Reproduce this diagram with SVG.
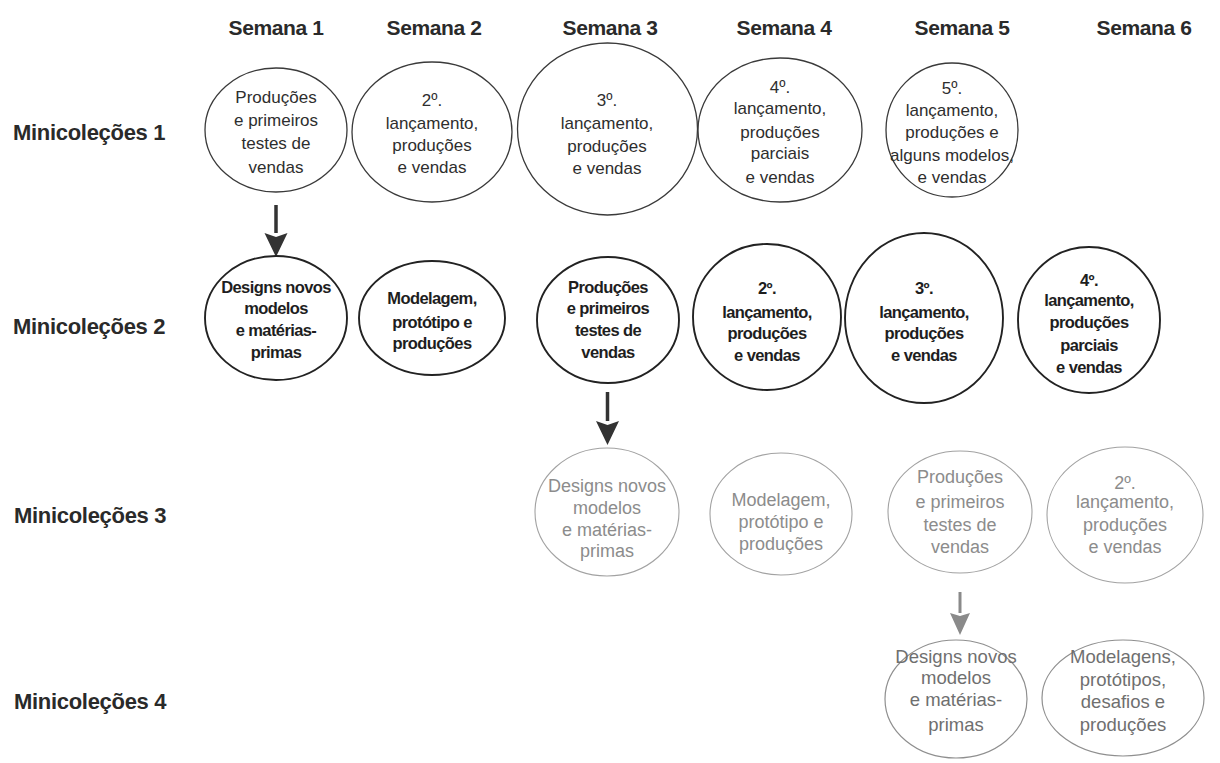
<svg xmlns="http://www.w3.org/2000/svg" width="1220" height="763" viewBox="0 0 1220 763">
<style>
text{font-family:"Liberation Sans",Arial,sans-serif;text-anchor:middle}
.hdr{font-weight:bold;font-size:21px;fill:#2a2a2a;letter-spacing:-0.4px}
.row{font-weight:bold;font-size:22px;fill:#2a2a2a;text-anchor:start;letter-spacing:-0.3px}
.r1 ellipse{fill:none;stroke:#3a3a3a;stroke-width:1.3}
.r1 text{font-size:17px;fill:#2e2e2e}
.r2 ellipse{fill:none;stroke:#222;stroke-width:1.9}
.r2 text{font-weight:bold;font-size:16.5px;letter-spacing:-0.6px;fill:#1e1e1e}
.r3 ellipse{fill:none;stroke:#a2a2a2;stroke-width:1.1}
.r3 text{font-size:18px;fill:#8c8c8c}
.r4 ellipse{fill:none;stroke:#8f8f8f;stroke-width:1.2}
.r4 text{font-size:18.5px;fill:#6f6f6f}
.dark{stroke:#333;stroke-width:3.5;fill:none}
.gray{stroke:#8a8a8a;stroke-width:3;fill:none}
</style>
<defs>
<marker id="ahd" markerUnits="userSpaceOnUse" markerWidth="24" markerHeight="24" refX="0" refY="11.5" orient="auto" overflow="visible">
<path d="M0,0 L24,11.5 L0,23 L4,11.5 z" fill="#333"/>
</marker>
<marker id="ahg" markerUnits="userSpaceOnUse" markerWidth="22" markerHeight="22" refX="0" refY="10" orient="auto" overflow="visible">
<path d="M0,0 L22,10 L0,20 L3,10 z" fill="#8a8a8a"/>
</marker>
</defs>

<g id="headers">
<text class="hdr" x="276" y="35">Semana 1</text>
<text class="hdr" x="434" y="35">Semana 2</text>
<text class="hdr" x="610" y="35">Semana 3</text>
<text class="hdr" x="784" y="35">Semana 4</text>
<text class="hdr" x="962" y="35">Semana 5</text>
<text class="hdr" x="1144" y="35">Semana 6</text>
</g>

<g id="row-labels">
<text class="row" x="13" y="140">Minicoleções 1</text>
<text class="row" x="13" y="334">Minicoleções 2</text>
<text class="row" x="14" y="523">Minicoleções 3</text>
<text class="row" x="14" y="709">Minicoleções 4</text>
</g>

<g id="connectors">
<line class="dark" x1="276" y1="205" x2="276" y2="233" marker-end="url(#ahd)"/>
<line class="dark" x1="607.5" y1="392" x2="607.5" y2="421" marker-end="url(#ahd)"/>
<line class="gray" x1="960" y1="592" x2="960" y2="613" marker-end="url(#ahg)"/>
</g>

<g id="m1-s1" class="r1">
<ellipse cx="276" cy="130" rx="71" ry="62"/>
<text x="276" y="103">Produções</text>
<text x="276" y="126">e primeiros</text>
<text x="276" y="149">testes de</text>
<text x="276" y="173">vendas</text>
</g>
<g id="m1-s2" class="r1">
<ellipse cx="432" cy="132" rx="80" ry="70"/>
<text x="432" y="106">2º.</text>
<text x="432" y="129">lançamento,</text>
<text x="432" y="151">produções</text>
<text x="432" y="173">e vendas</text>
</g>
<g id="m1-s3" class="r1">
<ellipse cx="607.5" cy="129" rx="90" ry="86"/>
<text x="607" y="106">3º.</text>
<text x="607" y="129">lançamento,</text>
<text x="607" y="152">produções</text>
<text x="607" y="174">e vendas</text>
</g>
<g id="m1-s4" class="r1">
<ellipse cx="780" cy="130" rx="82" ry="72"/>
<text x="780" y="93">4º.</text>
<text x="780" y="114">lançamento,</text>
<text x="780" y="138">produções</text>
<text x="780" y="159">parciais</text>
<text x="780" y="183">e vendas</text>
</g>
<g id="m1-s5" class="r1">
<ellipse cx="952" cy="130" rx="66" ry="67"/>
<text x="952" y="94">5º.</text>
<text x="952" y="116">lançamento,</text>
<text x="952" y="138">produções e</text>
<text x="952" y="161">alguns modelos,</text>
<text x="952" y="183">e vendas</text>
</g>

<g id="m2-s1" class="r2">
<ellipse cx="276" cy="318" rx="71" ry="62"/>
<text x="276" y="293">Designs novos</text>
<text x="276" y="314">modelos</text>
<text x="276" y="336">e matérias-</text>
<text x="276" y="358">primas</text>
</g>
<g id="m2-s2" class="r2">
<ellipse cx="432" cy="318" rx="73" ry="57"/>
<text x="432" y="304">Modelagem,</text>
<text x="432" y="328">protótipo e</text>
<text x="432" y="349">produções</text>
</g>
<g id="m2-s3" class="r2">
<ellipse cx="608" cy="320" rx="71" ry="63"/>
<text x="608" y="293">Produções</text>
<text x="608" y="314">e primeiros</text>
<text x="608" y="336">testes de</text>
<text x="608" y="358">vendas</text>
</g>
<g id="m2-s4" class="r2">
<ellipse cx="767" cy="317" rx="74" ry="73"/>
<text x="767" y="294">2º.</text>
<text x="767" y="318">lançamento,</text>
<text x="767" y="339">produções</text>
<text x="767" y="361">e vendas</text>
</g>
<g id="m2-s5" class="r2">
<ellipse cx="924" cy="318" rx="79" ry="85"/>
<text x="924" y="294">3º.</text>
<text x="924" y="318">lançamento,</text>
<text x="924" y="339">produções</text>
<text x="924" y="361">e vendas</text>
</g>
<g id="m2-s6" class="r2">
<ellipse cx="1089" cy="320" rx="71" ry="73"/>
<text x="1089" y="286">4º.</text>
<text x="1089" y="306">lançamento,</text>
<text x="1089" y="328">produções</text>
<text x="1089" y="351">parciais</text>
<text x="1089" y="373">e vendas</text>
</g>

<g id="m3-s3" class="r3">
<ellipse cx="607" cy="512" rx="72" ry="64"/>
<text x="607" y="492">Designs novos</text>
<text x="607" y="514">modelos</text>
<text x="607" y="536">e matérias-</text>
<text x="607" y="557">primas</text>
</g>
<g id="m3-s4" class="r3">
<ellipse cx="781" cy="514" rx="71" ry="61"/>
<text x="781" y="506">Modelagem,</text>
<text x="781" y="528">protótipo e</text>
<text x="781" y="550">produções</text>
</g>
<g id="m3-s5" class="r3">
<ellipse cx="960" cy="512" rx="72" ry="61"/>
<text x="960" y="483">Produções</text>
<text x="960" y="508">e primeiros</text>
<text x="960" y="531">testes de</text>
<text x="960" y="553">vendas</text>
</g>
<g id="m3-s6" class="r3">
<ellipse cx="1125" cy="515" rx="78" ry="68"/>
<text x="1125" y="489">2º.</text>
<text x="1125" y="508">lançamento,</text>
<text x="1125" y="531">produções</text>
<text x="1125" y="553">e vendas</text>
</g>

<g id="m4-s5" class="r4">
<ellipse cx="956" cy="699" rx="71" ry="59"/>
<text x="956" y="663">Designs novos</text>
<text x="956" y="684">modelos</text>
<text x="956" y="706">e matérias-</text>
<text x="956" y="731">primas</text>
</g>
<g id="m4-s6" class="r4">
<ellipse cx="1123" cy="698" rx="81" ry="58"/>
<text x="1123" y="663">Modelagens,</text>
<text x="1123" y="686">protótipos,</text>
<text x="1123" y="708">desafios e</text>
<text x="1123" y="731">produções</text>
</g>
</svg>
